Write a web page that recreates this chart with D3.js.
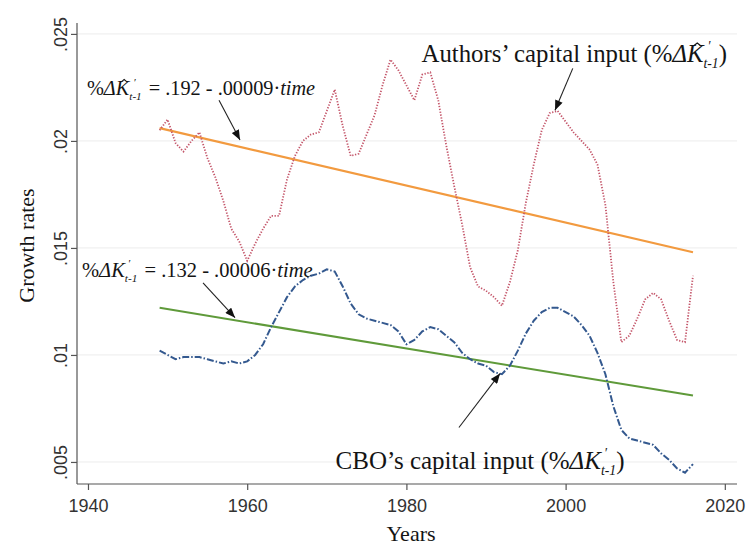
<!DOCTYPE html>
<html>
<head>
<meta charset="utf-8">
<script src="https://cdn.jsdelivr.net/npm/d3@7"></script>
<style>
  body { margin: 0; background: #fff; }
  svg { display: block; }
  .serif { font-family: "Liberation Serif", "Times New Roman", serif; fill: #141414; }
  .tick-label { font-family: "Liberation Sans", Arial, sans-serif; fill: #333; }
</style>
</head>
<body>
<svg id="chart" width="750" height="547"></svg>
<script>
// Annual growth rates of capital input, 1949-2016
const years = [1949, 1950, 1951, 1952, 1953, 1954, 1955, 1956, 1957, 1958,
               1959, 1960, 1961, 1962, 1963, 1964, 1965, 1966, 1967, 1968,
               1969, 1970, 1971, 1972, 1973, 1974, 1975, 1976, 1977, 1978,
               1979, 1980, 1981, 1982, 1983, 1984, 1985, 1986, 1987, 1988,
               1989, 1990, 1991, 1992, 1993, 1994, 1995, 1996, 1997, 1998,
               1999, 2000, 2001, 2002, 2003, 2004, 2005, 2006, 2007, 2008,
               2009, 2010, 2011, 2012, 2013, 2014, 2015, 2016];

const authorsInput = [0.0205, 0.0210, 0.0199, 0.0195, 0.0200, 0.0204, 0.0192, 0.0183, 0.0172, 0.0159,
                      0.0153, 0.0144, 0.0152, 0.0159, 0.0165, 0.0165, 0.0182, 0.0193, 0.0200, 0.0203,
                      0.0204, 0.0214, 0.0224, 0.0207, 0.0193, 0.0194, 0.0203, 0.0212, 0.0226, 0.0238,
                      0.0233, 0.0226, 0.0219, 0.0231, 0.0232, 0.0219, 0.0198, 0.0179, 0.0161, 0.0141,
                      0.0132, 0.0130, 0.0127, 0.0123, 0.0134, 0.0149, 0.0171, 0.0189, 0.0205, 0.0213,
                      0.0214, 0.0209, 0.0204, 0.0200, 0.0196, 0.0189, 0.0170, 0.0134, 0.0106, 0.0109,
                      0.0117, 0.0126, 0.0129, 0.0126, 0.0116, 0.0107, 0.0106, 0.0137];

const cboInput = [0.0102, 0.0100, 0.0098, 0.0099, 0.0099, 0.0099, 0.0098, 0.0097, 0.0096, 0.0097,
                  0.0096, 0.0097, 0.0100, 0.0105, 0.0113, 0.0120, 0.0127, 0.0132, 0.0135, 0.0137,
                  0.0138, 0.0140, 0.0139, 0.0132, 0.0124, 0.0119, 0.0117, 0.0116, 0.0115, 0.0114,
                  0.0111, 0.0105, 0.0107, 0.0111, 0.0113, 0.0112, 0.0109, 0.0106, 0.0101, 0.0098,
                  0.0096, 0.0095, 0.0092, 0.0091, 0.0095, 0.0102, 0.0110, 0.0116, 0.0120, 0.0122,
                  0.0122, 0.0120, 0.0118, 0.0114, 0.0109, 0.0101, 0.0091, 0.0076, 0.0065, 0.0061,
                  0.0060, 0.0059, 0.0058, 0.0054, 0.0051, 0.0047, 0.0045, 0.0049];

// Linear trend fits, evaluated at the ends of the sample
const fitYears = [1949, 2016];
const authorsFit = [0.0206, 0.0148];
const cboFit = [0.0122, 0.0081];

// Axes
const xTicks = [1940, 1960, 1980, 2000, 2020];
const yTicks = [0.005, 0.01, 0.015, 0.02, 0.025];
const yTickLabels = [".005", ".01", ".015", ".02", ".025"];
const xDomain = [1938.62, 2021.53];
const yDomain = [0.00397, 0.02551];

// Annotation anchors in data units [year, rate]
const eqAuthorsPos = [1939.87, 0.02213];
const eqCboPos = [1939.25, 0.01365];
const labelAuthorsPos = [1981.90, 0.02367];
const labelCboPos = [1971.10, 0.00465];
const arrows = [
  [[1956.46, 0.02190], [1959.10, 0.02004]],
  [[2000.90, 0.02339], [1998.67, 0.02143]],
  [[1954.45, 0.01337], [1958.47, 0.01174]],
  [[1986.60, 0.00661], [1991.76, 0.00913]]
];

const svg = d3.select("#chart");
const plot = { left: 77, right: 737, top: 23, bottom: 484 };

const x = d3.scaleLinear().domain(xDomain).range([plot.left, plot.right]);
const y = d3.scaleLinear().domain(yDomain).range([plot.bottom, plot.top]);

// Horizontal grid
svg.append("g").selectAll("line").data(yTicks).join("line")
  .attr("x1", plot.left).attr("x2", plot.right)
  .attr("y1", d => y(d)).attr("y2", d => y(d))
  .attr("stroke", "#ececec").attr("stroke-width", 1);

// Y axis
const yAxis = svg.append("g")
  .attr("transform", `translate(${plot.left},0)`)
  .call(d3.axisLeft(y).tickValues(yTicks).tickSize(6).tickFormat((d, i) => yTickLabels[i]));
yAxis.select(".domain").attr("d", `M0,${plot.top}V${plot.bottom}`);
yAxis.selectAll(".tick text")
  .attr("class", "tick-label")
  .attr("transform", "rotate(-90)")
  .attr("x", 0).attr("y", -10)
  .attr("dy", 0)
  .attr("text-anchor", "middle")
  .style("font-size", "18px");

// X axis
const xAxis = svg.append("g")
  .attr("transform", `translate(0,${plot.bottom})`)
  .call(d3.axisBottom(x).tickValues(xTicks).tickSize(6).tickFormat(d3.format("d")));
xAxis.select(".domain").attr("d", `M${plot.left},0H${plot.right}`);
xAxis.selectAll(".tick text")
  .attr("class", "tick-label")
  .attr("y", 11).attr("dy", "0.95em")
  .style("font-size", "18px");

svg.selectAll(".domain, .tick line").attr("stroke", "#555").attr("stroke-width", 1.2);
svg.selectAll(".tick text").attr("fill", "#333");

// Axis titles
svg.append("text").attr("class", "serif")
  .attr("transform", `translate(34,${(plot.top + plot.bottom) / 2 - 8}) rotate(-90)`)
  .attr("text-anchor", "middle").style("font-size", "22px")
  .text("Growth rates");
svg.append("text").attr("class", "serif")
  .attr("x", (plot.left + plot.right) / 2 + 4).attr("y", 541)
  .attr("text-anchor", "middle").style("font-size", "22px")
  .text("Years");

// Series
const line = d3.line().x((d, i) => x(years[i])).y(d => y(d));
const fitLine = d3.line().x((d, i) => x(fitYears[i])).y(d => y(d));

svg.append("path").datum(authorsFit)
  .attr("d", fitLine).attr("fill", "none")
  .attr("stroke", "#f29a3f").attr("stroke-width", 2.2);
svg.append("path").datum(cboFit)
  .attr("d", fitLine).attr("fill", "none")
  .attr("stroke", "#5f9a3a").attr("stroke-width", 2);

svg.append("path").datum(authorsInput)
  .attr("d", line).attr("fill", "none")
  .attr("stroke", "#c4566a").attr("stroke-width", 1.8)
  .attr("stroke-dasharray", "1.3,1.6");
svg.append("path").datum(cboInput)
  .attr("d", line).attr("fill", "none")
  .attr("stroke", "#34598f").attr("stroke-width", 2)
  .attr("stroke-dasharray", "7,2,1.5,2");

// Arrows
svg.append("defs").append("marker")
  .attr("id", "head").attr("viewBox", "0 0 10 8")
  .attr("refX", 10).attr("refY", 4)
  .attr("markerWidth", 11).attr("markerHeight", 8)
  .attr("markerUnits", "userSpaceOnUse")
  .attr("orient", "auto")
  .append("path").attr("d", "M0,0L10,4L0,8Z").attr("fill", "#111");

svg.append("g").selectAll("line").data(arrows).join("line")
  .attr("x1", d => x(d[0][0])).attr("y1", d => y(d[0][1]))
  .attr("x2", d => x(d[1][0])).attr("y2", d => y(d[1][1]))
  .attr("stroke", "#222").attr("stroke-width", 1.1)
  .attr("marker-end", "url(#head)");

// Rich text: runs of regular / italic text with stacked super- and subscripts;
// the hat accent is drawn as a small stroked caret above the letter
function rich(px, py, size, segs) {
  const g = svg.append("g").attr("class", "serif");
  let cx = px;
  for (const s of segs) {
    if (s.stack) {
      const small = size * 0.55;
      const a = g.append("text").attr("x", cx + (s.supDx || 0)).attr("y", py - size * 0.47)
        .style("font-size", small + "px").style("font-style", "italic").text(s.sup);
      const b = g.append("text").attr("x", cx).attr("y", py + size * 0.24)
        .style("font-size", small + "px").style("font-style", "italic").text(s.sub);
      cx += Math.max(a.node().getComputedTextLength() + (s.supDx || 0),
                     b.node().getComputedTextLength()) + (s.after || 0);
    } else {
      const t = g.append("text").attr("x", cx).attr("y", py)
        .style("font-size", size + "px")
        .style("font-style", s.italic ? "italic" : "normal")
        .attr("xml:space", "preserve")
        .text(s.t);
      const w = t.node().getComputedTextLength();
      if (s.hat) {
        const hx = cx + w * 0.62, hy = py - size * 0.78, hw = size * 0.14;
        g.append("path")
          .attr("d", `M${hx - hw},${hy + hw * 0.8}L${hx},${hy}L${hx + hw},${hy + hw * 0.8}`)
          .attr("fill", "none").attr("stroke", "#141414").attr("stroke-width", size * 0.05);
      }
      cx += w;
    }
  }
  return g;
}

rich(x(eqAuthorsPos[0]), y(eqAuthorsPos[1]), 20.3, [
  { t: "%" }, { t: "Δ", italic: true }, { t: "K", italic: true, hat: true },
  { stack: true, sup: "′", sub: "t-1", supDx: 4, after: 2 },
  { t: " = .192 - .00009·" }, { t: "time", italic: true }
]);

rich(x(eqCboPos[0]), y(eqCboPos[1]), 20.5, [
  { t: "%" }, { t: "Δ", italic: true }, { t: "K", italic: true },
  { stack: true, sup: "′", sub: "t-1", supDx: 3, after: 2 },
  { t: " = .132 - .00006·" }, { t: "time", italic: true }
]);

rich(x(labelAuthorsPos[0]), y(labelAuthorsPos[1]), 24.8, [
  { t: "Authors’ capital input (%" }, { t: "Δ", italic: true },
  { t: "K", italic: true, hat: true },
  { stack: true, sup: "′", sub: "t-1", supDx: 4 }, { t: ")" }
]);

rich(x(labelCboPos[0]), y(labelCboPos[1]), 25, [
  { t: "CBO’s capital input (%" }, { t: "Δ", italic: true },
  { t: "K", italic: true },
  { stack: true, sup: "′", sub: "t-1", supDx: 3 }, { t: ")" }
]);
</script>
</body>
</html>
